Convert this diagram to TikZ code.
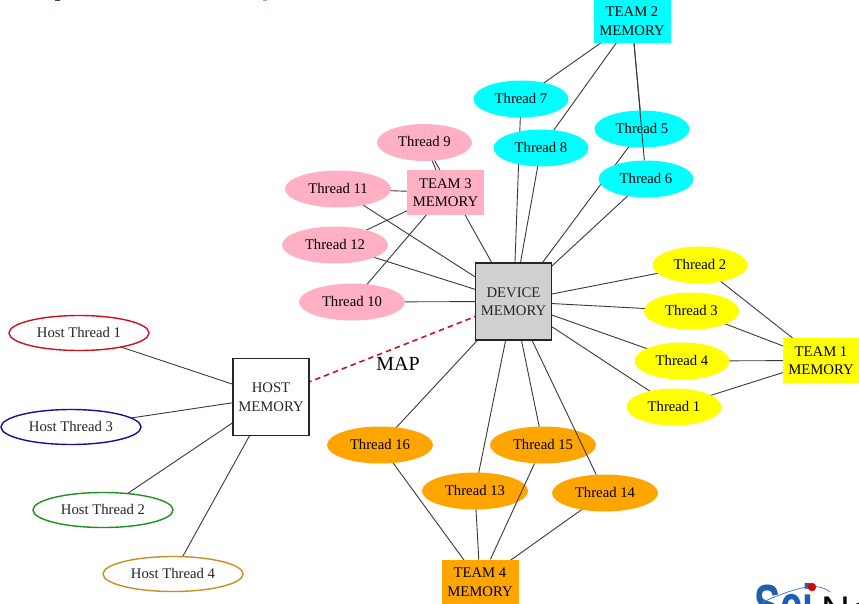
\documentclass[tikz,border=0pt]{standalone}
\usepackage{fontspec}
\setmainfont{Liberation Serif}
\newfontfamily\logofont{Liberation Sans}
\usetikzlibrary{shapes.geometric,backgrounds}
\definecolor{pinkf}{HTML}{FFB0C4}
\definecolor{cyanf}{HTML}{00FFFF}
\definecolor{yellowf}{HTML}{FFFF00}
\definecolor{orangef}{HTML}{FFA500}
\definecolor{devf}{HTML}{D0D0D0}
\definecolor{logoblue}{HTML}{1F5FAE}
\definecolor{hostred}{HTML}{D01020}
\definecolor{hostblue}{HTML}{11119A}
\definecolor{hostgreen}{HTML}{1F8F1F}
\definecolor{hostgold}{HTML}{CC8E22}
\tikzset{
  x=1pt,y=-1pt,
  lbl/.style={font=\fontsize{14.7}{18.5}\selectfont,align=center,text=black},
  thr/.style={ellipse,lbl,minimum width=95pt,minimum height=37pt,inner sep=0pt,draw=none,text depth=1.6pt},
  wthr/.style={thr,minimum width=106pt},
  hostthr/.style={ellipse,lbl,minimum width=140pt,minimum height=35pt,inner sep=0pt,line width=1.4pt,fill=white,text=black!85,text depth=1.6pt},
  mem/.style={rectangle,lbl,minimum width=77pt,minimum height=45pt,inner sep=0pt},
  bigmem/.style={rectangle,lbl,minimum width=76pt,minimum height=77pt,inner sep=0pt,draw=black!85,line width=1.5pt,text=black!85},
  lnk/.style={draw=black!78,line width=0.9pt},
  mapl/.style={draw=hostred,line width=1.6pt,dash pattern=on 5.5pt off 4pt}
}
\begin{document}
\begin{tikzpicture}
\useasboundingbox (0,0) rectangle (859,604);
\clip (0,0) rectangle (859,604);
% memories
\node[bigmem,fill=white] (host) at (271,397) {HOST\\MEMORY};
\node[bigmem,fill=devf] (dev) at (513.5,301.5) {DEVICE\\MEMORY};
\node[mem,fill=cyanf] (t2) at (632,21) {TEAM 2\\MEMORY};
\node[mem,fill=pinkf] (t3) at (445.5,192.5) {TEAM 3\\MEMORY};
\node[mem,fill=yellowf] (t1) at (821,360.5) {TEAM 1\\MEMORY};
\node[mem,fill=orangef] (t4) at (480,582) {TEAM 4\\MEMORY};
% threads
\node[thr,fill=yellowf] (th2) at (700,265) {Thread 2};
\node[thr,fill=yellowf] (th3) at (691.5,311) {Thread 3};
\node[thr,fill=yellowf] (th4) at (682,361) {Thread 4};
\node[thr,fill=yellowf] (th1) at (674,407) {Thread 1};
\node[thr,fill=cyanf] (th7) at (521,99) {Thread 7};
\node[thr,fill=cyanf] (th8) at (541,148) {Thread 8};
\node[thr,fill=cyanf] (th5) at (642,129) {Thread 5};
\node[thr,fill=cyanf] (th6) at (646,179) {Thread 6};
\node[thr,fill=pinkf] (th9) at (424.5,142.5) {Thread 9};
\node[wthr,fill=pinkf] (th11) at (338,189) {Thread 11};
\node[wthr,fill=pinkf] (th12) at (335,245) {Thread 12};
\node[wthr,fill=pinkf] (th10) at (352,302) {Thread 10};
\node[wthr,fill=orangef] (th16) at (380,445) {Thread 16};
\node[wthr,fill=orangef] (th15) at (543,445) {Thread 15};
\node[wthr,fill=orangef] (th13) at (475,491) {Thread 13};
\node[wthr,fill=orangef] (th14) at (605,493) {Thread 14};
\node[hostthr,draw=hostred] (h1) at (79,333) {Host Thread 1};
\node[hostthr,draw=hostblue] (h3) at (71,427) {Host Thread 3};
\node[hostthr,draw=hostgreen] (h2) at (103,510) {Host Thread 2};
\node[hostthr,draw=hostgold] (h4) at (173,574) {Host Thread 4};
\node[lbl,font=\fontsize{20}{22}\selectfont] (maplabel) at (398,364) {MAP};
% connectors behind the nodes
\begin{pgfonlayer}{background}
\foreach \a in {th1,th2,th3,th4,th5,th6,th7,th8,th9,th10,th11,th12,th13,th15,th16}
  \draw[lnk] (\a.center) -- (dev.center);
\foreach \a in {th1,th2,th3,th4} \draw[lnk] (\a.center) -- (t1.center);
\foreach \a in {th5,th7,th8} \draw[lnk] (\a.center) -- (t2.center);
\foreach \a in {th9,th10,th11,th12} \draw[lnk] (\a.center) -- (t3.center);
\foreach \a in {th13,th14,th16} \draw[lnk] (\a.center) -- (t4.center);
\foreach \a in {h1,h2,h3,h4} \draw[lnk] (\a.center) -- (host.center);
\draw[mapl] (host.center) -- (dev.center);
\end{pgfonlayer}
% connectors that run over another node
\draw[lnk] (th14) -- (dev);
\draw[lnk] (th15) -- (t4);
\draw[lnk] (th6) -- (t2);
% logo fragment, cut off by the page edge
\node[anchor=base west,inner sep=0pt,text=logoblue,font=\logofont\bfseries\fontsize{58}{58}\selectfont,xscale=0.68,transform shape] (logo) at (754,625) {Sci};
\node[anchor=base west,inner sep=0pt,text=black,font=\logofont\fontsize{40}{40}\selectfont] (logob) at (821,624) {Ne};
\draw[logoblue!80,line width=0.8pt] (763,602) .. controls (780,594) and (798,588) .. (810,586.5) .. controls (818,586) and (826,588) .. (830,592);
\fill[red!85!black] (812,587) circle (4.2);
% scraps of text at the top edge
\fill[blue!65!black!80] (55,0) rectangle (60,1.2);
\fill[blue!40] (263,0) rectangle (267,1.2);
\end{tikzpicture}
\end{document}
